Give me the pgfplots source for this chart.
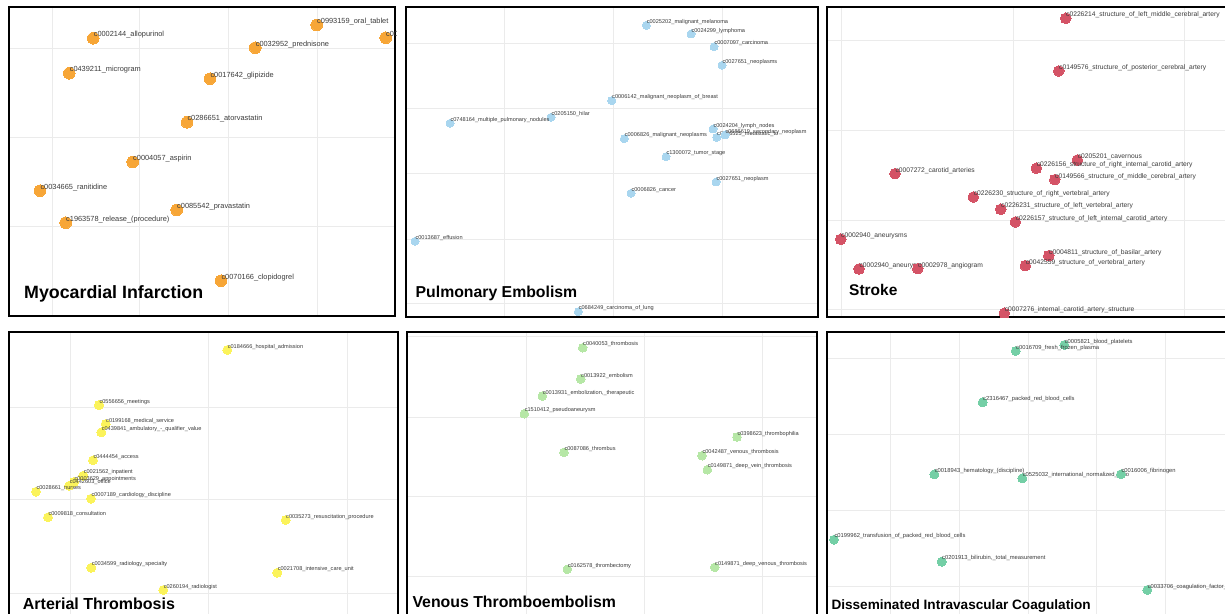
\documentclass[border=0pt]{standalone}
\usepackage{pgfplots}
\pgfplotsset{compat=1.18}
\usepackage{fontspec}
\setmainfont{Liberation Sans}

\definecolor{cMI}{HTML}{F7A637}
\definecolor{cPE}{HTML}{A9D6EF}
\definecolor{cST}{HTML}{D45366}
\definecolor{cAT}{HTML}{FBF35B}
\definecolor{cVT}{HTML}{B6E7A6}
\definecolor{cDI}{HTML}{74CFA6}
\definecolor{gridgrey}{HTML}{EBEBEB}
\definecolor{labgrey}{HTML}{3A3A3A}

\pgfplotsset{
  panel/.style={
    scale only axis, anchor=north west,
    xmin=0, ymin=0, y dir=reverse,
    axis line style={line width=2bp, black},
    grid=major, grid style={line width=0.8bp, gridgrey},
    major tick length=0pt, xticklabel={}, yticklabel={},
    point meta=explicit symbolic,
    every node near coord/.append style={anchor=west, inner sep=0pt,
      xshift=0.5bp, yshift=3.3bp, text=labgrey},
  },
  labfont/.style={every node near coord/.append style={font=\fontsize{#1bp}{#1bp}\selectfont}},
  pts/.style={only marks, mark=*, color=#1, mark options={solid, fill=#1, draw=#1, line width=0pt}, nodes near coords},
}
\tikzset{ttl/.style={anchor=base west, inner sep=0pt, font=\fontsize{#1bp}{#1bp}\selectfont\bfseries}}

\begin{document}
\begin{tikzpicture}

% Myocardial Infarction
\begin{scope}
\clip (8bp,608bp) rectangle (396bp,297bp);
\begin{axis}[panel, at={(9bp,607bp)}, width=386bp, height=309bp, xmax=386, ymax=309,
  xtick={43,130,219,308}, ytick={41.3,130.3,219.7}, labfont=7.4]
\addplot[pts=cMI, mark size=5.8bp] table[meta=label] {
x y label
307.7 18 c0993159\_oral\_tablet
376.7 30.7 c0027358\_naproxen
84.3 31.3 c0002144\_allopurinol
246.3 40.7 c0032952\_prednisone
60.3 66.3 c0439211\_microgram
201 71.7 c0017642\_glipizide
178 115.3 c0286651\_atorvastatin
123.7 155 c0004057\_aspirin
31 183.7 c0034665\_ranitidine
167.7 203 c0085542\_pravastatin
56.7 215.7 c1963578\_release\_(procedure)
212 273.7 c0070166\_clopidogrel
};
\node[ttl=17.8] at (axis cs:15,291) {Myocardial Infarction};
\end{axis}
\end{scope}

% Pulmonary Embolism
\begin{scope}
\clip (405bp,608bp) rectangle (819bp,296bp);
\begin{axis}[panel, at={(406bp,607bp)}, width=412bp, height=310bp, xmax=412, ymax=310,
  xtick={98,207,316}, ytick={36,101,166,232,296}, labfont=5.6]
\addplot[pts=cPE, mark size=4bp] table[meta=label] {
x y label
240.3 18.3 c0025202\_malignant\_melanoma
285 27 c0024299\_lymphoma
308 39.7 c0007097\_carcinoma
316 58.3 c0027651\_neoplasms
205.7 93.7 c0006142\_malignant\_neoplasm\_of\_breast
145 110.3 c0205150\_hilar
44 116.3 c0748164\_multiple\_pulmonary\_nodules
307 122 c0024204\_lymph\_nodes
218.3 131.7 c0006826\_malignant\_neoplasms
310.7 130.3 c0036525\_metastatic\_to
319 128 c0686619\_secondary\_neoplasm
260 149.7 c1300072\_tumor\_stage
310 175 c0027651\_neoplasm
225 186.3 c0006826\_cancer
9 234.3 c0013687\_effusion
172.3 304.7 c0684249\_carcinoma\_of\_lung
};
\node[ttl=15.8] at (axis cs:9.5,290.7) {Pulmonary Embolism};
\end{axis}
\end{scope}

% Stroke
\begin{scope}
\clip (826bp,608bp) rectangle (1260bp,296bp);
\begin{axis}[panel, at={(827bp,607bp)}, width=420bp, height=310bp, xmax=420, ymax=310,
  xtick={14,186,357}, ytick={33,123,213,302}, labfont=6.7]
\addplot[pts=cST, mark size=5.3bp] table[meta=label] {
x y label
256.3 -2 c0007766\_cerebral\_artery
238.7 11.3 c0226214\_structure\_of\_left\_middle\_cerebral\_artery
231.7 64 c0149576\_structure\_of\_posterior\_cerebral\_artery
250.3 153 c0205201\_cavernous
209.3 161.3 c0226156\_structure\_of\_right\_internal\_carotid\_artery
227.7 172.7 c0149566\_structure\_of\_middle\_cerebral\_artery
68 166.7 c0007272\_carotid\_arteries
146.3 190 c0226230\_structure\_of\_right\_vertebral\_artery
173.7 202.3 c0226231\_structure\_of\_left\_vertebral\_artery
188.3 215 c0226157\_structure\_of\_left\_internal\_carotid\_artery
13.7 232.3 c0002940\_aneurysms
221.7 248.7 c0004811\_structure\_of\_basilar\_artery
198.3 258.7 c0042559\_structure\_of\_vertebral\_artery
32 262 c0002940\_aneurysm
90.7 261.7 c0002978\_angiogram
177.3 306.3 c0007276\_internal\_carotid\_artery\_structure
};
\node[ttl=15.5] at (axis cs:22,289) {Stroke};
\end{axis}
\end{scope}

% Arterial Thrombosis
\begin{scope}
\clip (8bp,283bp) rectangle (399bp,-30bp);
\begin{axis}[panel, at={(9bp,282bp)}, width=389bp, height=300bp, xmax=389, ymax=300,
  xtick={61,199,338}, ytick={75,167,261}, labfont=5.6]
\addplot[pts=cAT, mark size=4.5bp] table[meta=label] {
x y label
328.3 -2.7 c0019993\_hospitalization
218.3 18 c0184666\_hospital\_admission
90 73 c0556656\_meetings
96.7 92 c0199168\_medical\_service
92.3 100.3 c0439841\_ambulatory\_-\_qualifier\_value
84 128.3 c0444454\_access
74.3 143.7 c0021562\_inpatient
65 150 c0003629\_appointments
60.3 153.7 c0442603\_office
27 159.7 c0028661\_nurses
82 166.7 c0007189\_cardiology\_discipline
39 185.3 c0009818\_consultation
276.7 188 c0035273\_resuscitation\_procedure
82.3 235.7 c0034599\_radiology\_specialty
268.3 240.7 c0021708\_intensive\_care\_unit
154.3 258 c0260194\_radiologist
};
\node[ttl=16] at (axis cs:13.7,277) {Arterial Thrombosis};
\end{axis}
\end{scope}

% Venous Thromboembolism
\begin{scope}
\clip (406bp,283bp) rectangle (818bp,-30bp);
\begin{axis}[panel, at={(407bp,282bp)}, width=410bp, height=300bp, xmax=410, ymax=300,
  xtick={119,237,355}, ytick={4.7,85.3,164,244}, labfont=5.6]
\addplot[pts=cVT, mark size=4.3bp] table[meta=label] {
x y label
175.7 15.7 c0040053\_thrombosis
173.7 47 c0013922\_embolism
135.3 64 c0013931\_embolization,\_therapeutic
117.3 81.7 c1510412\_pseudoaneurysm
330 105 c0398623\_thrombophilia
157 120.3 c0087086\_thrombus
295 123.7 c0042487\_venous\_thrombosis
300.3 137.7 c0149871\_deep\_vein\_thrombosis
160.3 237.3 c0162578\_thrombectomy
307.7 235.3 c0149871\_deep\_venous\_thrombosis
};
\node[ttl=15.85] at (axis cs:5.3,275.3) {Venous Thromboembolism};
\end{axis}
\end{scope}

% Disseminated Intravascular Coagulation
\begin{scope}
\clip (826bp,283bp) rectangle (1260bp,-30bp);
\begin{axis}[panel, at={(827bp,282bp)}, width=420bp, height=300bp, xmax=420, ymax=300,
  xtick={63,132,201,269,338}, ytick={26,102,178,254}, labfont=5.8]
\addplot[pts=cDI, mark size=4.5bp] table[meta=label] {
x y label
237.3 13 c0005821\_blood\_platelets
188.7 19 c0016709\_fresh\_frozen\_plasma
155.7 70.3 c2316467\_packed\_red\_blood\_cells
107.3 142.3 c0018943\_hematology\_(discipline)
195.3 146.3 c0525032\_international\_normalized\_ratio
294 142.3 c0016006\_fibrinogen
7 207.7 c0199962\_transfusion\_of\_packed\_red\_blood\_cells
114.7 229.7 c0201913\_bilirubin,\_total\_measurement
320.3 258 c0033706\_coagulation\_factor\_assay
-24 57 c0023418\_leukemia
};
\node[ttl=13.6] at (axis cs:4.3,277.3) {Disseminated Intravascular Coagulation};
\end{axis}
\end{scope}

\pgfresetboundingbox
\path[use as bounding box] (0bp,0bp) rectangle (1225bp,614bp);
\end{tikzpicture}
\end{document}
